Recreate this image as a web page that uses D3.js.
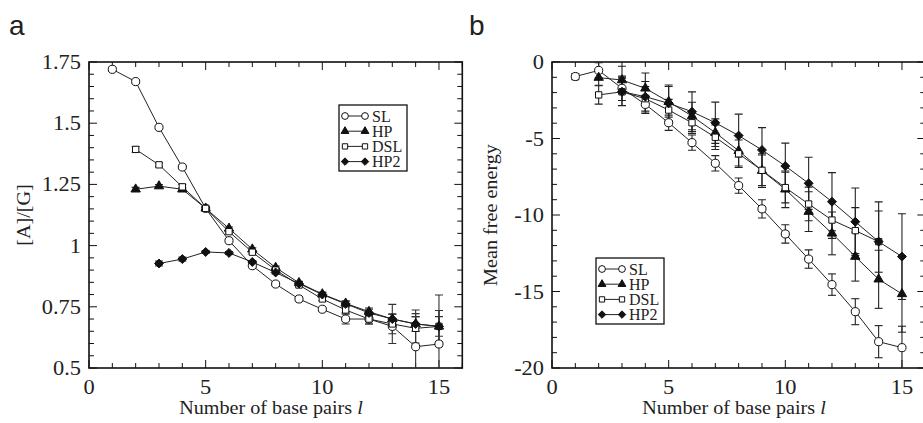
<!DOCTYPE html>
<html>
<head>
<meta charset="utf-8">
<script src="https://cdn.jsdelivr.net/npm/d3@7"></script>
<style>
  body { margin: 0; background: #fff; }
  svg { display: block; }
  text { font-family: "Liberation Serif", "Times New Roman", serif; fill: #222; }
</style>
</head>
<body>
<div class="chart"></div>
<script>
// base pair lengths l = 1..15
const lengths = [1, 2, 3, 4, 5, 6, 7, 8, 9, 10, 11, 12, 13, 14, 15];
const seriesNames = ["SL", "HP", "DSL", "HP2"];

// panel a: [A]/[G]
const aSL   = [1.72, 1.67, 1.483, 1.321, 1.152, 1.02, 0.918, 0.843, 0.782, 0.74, 0.70, 0.70, 0.67, 0.587, 0.598];
const aHP   = [null, 1.23, 1.243, 1.23, 1.152, 1.07, 0.985, 0.91, 0.848, 0.802, 0.764, 0.73, 0.70, 0.68, 0.67];
const aDSL  = [null, 1.393, 1.33, 1.24, 1.152, 1.057, 0.973, 0.90, 0.839, 0.782, 0.737, 0.70, 0.68, 0.662, 0.67];
const aHP2  = [null, null, 0.927, 0.945, 0.974, 0.97, 0.933, 0.89, 0.845, 0.80, 0.762, 0.725, 0.70, 0.68, 0.67];
const aSLerr  = [0.008, 0.008, 0.006, 0.006, 0.006, 0.006, 0.006, 0.006, 0.006, 0.006, 0.02, 0.02, 0.03, 0.15, 0.2];
const aHPerr  = [null, 0.008, 0.006, 0.006, 0.006, 0.006, 0.006, 0.006, 0.006, 0.008, 0.01, 0.015, 0.02, 0.03, 0.065];
const aDSLerr = [null, 0.012, 0.008, 0.01, 0.006, 0.006, 0.006, 0.006, 0.006, 0.006, 0.012, 0.02, 0.08, 0.06, 0.065];
const aHP2err = [null, null, 0.01, 0.008, 0.006, 0.006, 0.006, 0.006, 0.006, 0.008, 0.01, 0.015, 0.02, 0.03, 0.04];

// panel b: mean free energy
const bSL   = [-0.95, -0.55, -1.72, -2.77, -3.97, -5.27, -6.62, -8.08, -9.6, -11.24, -12.88, -14.55, -16.32, -18.28, -18.67];
const bHP   = [null, -1.02, -1.18, -1.72, -2.6, -3.53, -4.62, -5.8, -7.1, -8.32, -9.78, -11.2, -12.72, -14.2, -15.16];
const bDSL  = [null, -2.15, -1.95, -2.4, -3.14, -3.97, -4.92, -6.0, -7.08, -8.21, -9.28, -10.33, -11.02, -11.74, null];
const bHP2  = [null, null, -1.94, -2.27, -2.7, -3.25, -3.97, -4.81, -5.75, -6.8, -7.93, -9.13, -10.44, -11.74, -12.72];
const bSLerr  = [0.2, 0.5, 0.8, 0.6, 0.5, 0.5, 0.5, 0.5, 0.6, 0.6, 0.6, 0.7, 0.85, 1.05, 1.4];
const bHPerr  = [null, 0.5, 0.9, 1.0, 1.0, 0.9, 0.9, 1.0, 1.1, 1.2, 1.3, 1.4, 1.6, 1.9, 2.5];
const bDSLerr = [null, 0.6, 0.9, 0.8, 0.7, 0.7, 0.8, 0.9, 1.0, 1.0, 1.1, 1.2, 1.5, 2.0, null];
const bHP2err = [null, null, 0.9, 1.0, 1.2, 1.3, 1.35, 1.4, 1.46, 1.5, 1.7, 1.9, 2.2, 2.6, 2.8];

const xTicks = [0, 5, 10, 15];
const aYTicks = [0.5, 0.75, 1, 1.25, 1.5, 1.75];
const aYLabels = ["0.5", "0.75", "1", "1.25", "1.5", "1.75"];
const bYTicks = [-20, -15, -10, -5, 0];
const bYLabels = ["-20", "-15", "-10", "-5", "0"];

const W = 923, H = 423;
const SX = 1.12; // the reference type is a little wide
const SERIF = "'Liberation Serif', 'Times New Roman', serif";

const svg = d3.select(".chart").append("svg")
    .attr("width", W)
    .attr("height", H);

// square turned 45 degrees
const squareDiamond = {
    draw(ctx, size) {
        const r = Math.sqrt(size / 2);
        ctx.moveTo(0, -r);
        ctx.lineTo(r, 0);
        ctx.lineTo(0, r);
        ctx.lineTo(-r, 0);
        ctx.closePath();
    }
};

const symbols = {
    SL:  { type: d3.symbolCircle,   size: 52, fill: "#fff" },
    HP:  { type: d3.symbolTriangle, size: 38, fill: "#111" },
    DSL: { type: d3.symbolSquare,   size: 40, fill: "#fff" },
    HP2: { type: squareDiamond,     size: 40, fill: "#111" }
};

function wideText(g, x, y, str, size, anchor, rotate) {
    return g.append("text")
        .attr("transform", `translate(${x},${y})` + (rotate ? ` rotate(${rotate})` : "") + ` scale(${SX},1)`)
        .attr("text-anchor", anchor || "middle")
        .style("font-family", SERIF)
        .style("font-size", size + "px")
        .text(str);
}

function panel(opt) {
    const x = d3.scaleLinear().domain([0, 16]).range([opt.left, opt.left + 373.3]);
    const y = d3.scaleLinear().domain(opt.yDomain).range([368, 62]);
    const g = svg.append("g");

    const clipId = "clip-" + opt.id;
    g.append("clipPath").attr("id", clipId)
        .append("rect")
        .attr("x", x(0)).attr("y", y(opt.yDomain[1]))
        .attr("width", x(16) - x(0)).attr("height", y(opt.yDomain[0]) - y(opt.yDomain[1]));

    // frame and inward ticks
    const frame = g.append("g").attr("stroke", "#111").attr("fill", "none");
    frame.append("rect")
        .attr("x", x(0)).attr("y", y(opt.yDomain[1]))
        .attr("width", x(16) - x(0)).attr("height", y(opt.yDomain[0]) - y(opt.yDomain[1]))
        .attr("stroke-width", 1.6);

    d3.range(0, 17).forEach(v => {
        const len = v % 5 === 0 ? 8 : 5;
        frame.append("line").attr("x1", x(v)).attr("x2", x(v))
            .attr("y1", y(opt.yDomain[0])).attr("y2", y(opt.yDomain[0]) - len);
        frame.append("line").attr("x1", x(v)).attr("x2", x(v))
            .attr("y1", y(opt.yDomain[1])).attr("y2", y(opt.yDomain[1]) + len);
    });
    d3.range(opt.yDomain[0], opt.yDomain[1] + opt.minor / 2, opt.minor).forEach((v, i) => {
        const len = i % opt.perMajor === 0 ? 8 : 5;
        frame.append("line").attr("x1", x(0)).attr("x2", x(0) + len)
            .attr("y1", y(v)).attr("y2", y(v));
        frame.append("line").attr("x1", x(16)).attr("x2", x(16) - len)
            .attr("y1", y(v)).attr("y2", y(v));
    });

    // tick labels
    xTicks.forEach(v => wideText(g, x(v), 394, String(v), 20));
    opt.yTicks.forEach((v, i) => wideText(g, x(0) - 8, y(v) + 7, opt.yLabels[i], 20, "end"));

    // axis titles
    const xt = wideText(g, x(0) + 182, 414, "Number of base pairs ", 18);
    xt.append("tspan").style("font-style", "italic").text("l");
    wideText(g, opt.yTitleX, 215, opt.yTitle, 18, "middle", -90);

    // panel letter
    g.append("text")
        .attr("x", opt.letterX).attr("y", 35)
        .style("font-family", "'Liberation Sans', Arial, sans-serif")
        .style("font-size", "28px")
        .text(opt.letter);

    // series
    const plot = g.append("g").attr("clip-path", `url(#${clipId})`);
    const line = d3.line()
        .defined(d => d.v !== null)
        .x(d => x(d.l))
        .y(d => y(d.v));

    opt.series.forEach(s => {
        const pts = lengths.map((l, i) => ({ l: l, v: s.values[i], e: s.err[i] }))
            .filter(d => d.v !== null);

        plot.append("g").attr("stroke", opt.errColor).attr("stroke-width", 1.1)
            .selectAll("g").data(pts.filter(d => d.e)).join("g")
            .each(function (d) {
                const eg = d3.select(this);
                eg.append("line").attr("x1", x(d.l)).attr("x2", x(d.l))
                    .attr("y1", y(d.v - d.e)).attr("y2", y(d.v + d.e));
                [d.v - d.e, d.v + d.e].forEach(c => {
                    eg.append("line").attr("x1", x(d.l) - 4).attr("x2", x(d.l) + 4)
                        .attr("y1", y(c)).attr("y2", y(c));
                });
            });

        plot.append("path")
            .datum(pts)
            .attr("fill", "none")
            .attr("stroke", "#222")
            .attr("stroke-width", 1)
            .attr("d", line);
    });

    opt.series.forEach(s => {
        const sym = symbols[s.name];
        const pts = lengths.map((l, i) => ({ l: l, v: s.values[i] })).filter(d => d.v !== null);
        plot.append("g").selectAll("path").data(pts).join("path")
            .attr("transform", d => `translate(${x(d.l)},${y(d.v)})`)
            .attr("d", d3.symbol().type(sym.type).size(sym.size))
            .attr("fill", sym.fill)
            .attr("stroke", "#111")
            .attr("stroke-width", 1);
    });

    // legend
    const lg = g.append("g");
    lg.append("rect")
        .attr("x", opt.legend[0]).attr("y", opt.legend[1])
        .attr("width", 68).attr("height", 66)
        .attr("fill", "#fff").attr("stroke", "#111").attr("stroke-width", 1.3);
    seriesNames.forEach((name, i) => {
        const sym = symbols[name];
        const ly = opt.legend[1] + 11 + i * 15.2;
        const lx = opt.legend[0] + 6;
        lg.append("line").attr("x1", lx).attr("x2", lx + 20).attr("y1", ly).attr("y2", ly)
            .attr("stroke", "#222").attr("stroke-width", 1);
        [lx, lx + 20].forEach(px => {
            lg.append("path")
                .attr("transform", `translate(${px},${ly})`)
                .attr("d", d3.symbol().type(sym.type).size(sym.size * 0.7))
                .attr("fill", sym.fill).attr("stroke", "#111");
        });
        lg.append("text")
            .attr("x", lx + 27).attr("y", ly + 5.5)
            .style("font-family", SERIF)
            .style("font-size", "16px")
            .text(name);
    });
}

panel({
    id: "a", left: 89, yDomain: [0.5, 1.75], minor: 0.05, perMajor: 5,
    yTicks: aYTicks, yLabels: aYLabels, yTitle: "[A]/[G]", yTitleX: 30,
    letter: "a", letterX: 9, legend: [339, 105], errColor: "#333",
    series: [
        { name: "SL",  values: aSL,  err: aSLerr },
        { name: "HP",  values: aHP,  err: aHPerr },
        { name: "DSL", values: aDSL, err: aDSLerr },
        { name: "HP2", values: aHP2, err: aHP2err }
    ]
});

panel({
    id: "b", left: 552, yDomain: [-20, 0], minor: 1, perMajor: 5,
    yTicks: bYTicks, yLabels: bYLabels, yTitle: "Mean free energy", yTitleX: 497,
    letter: "b", letterX: 469, legend: [596, 258], errColor: "#222",
    series: [
        { name: "SL",  values: bSL,  err: bSLerr },
        { name: "HP",  values: bHP,  err: bHPerr },
        { name: "DSL", values: bDSL, err: bDSLerr },
        { name: "HP2", values: bHP2, err: bHP2err }
    ]
});
</script>
</body>
</html>
